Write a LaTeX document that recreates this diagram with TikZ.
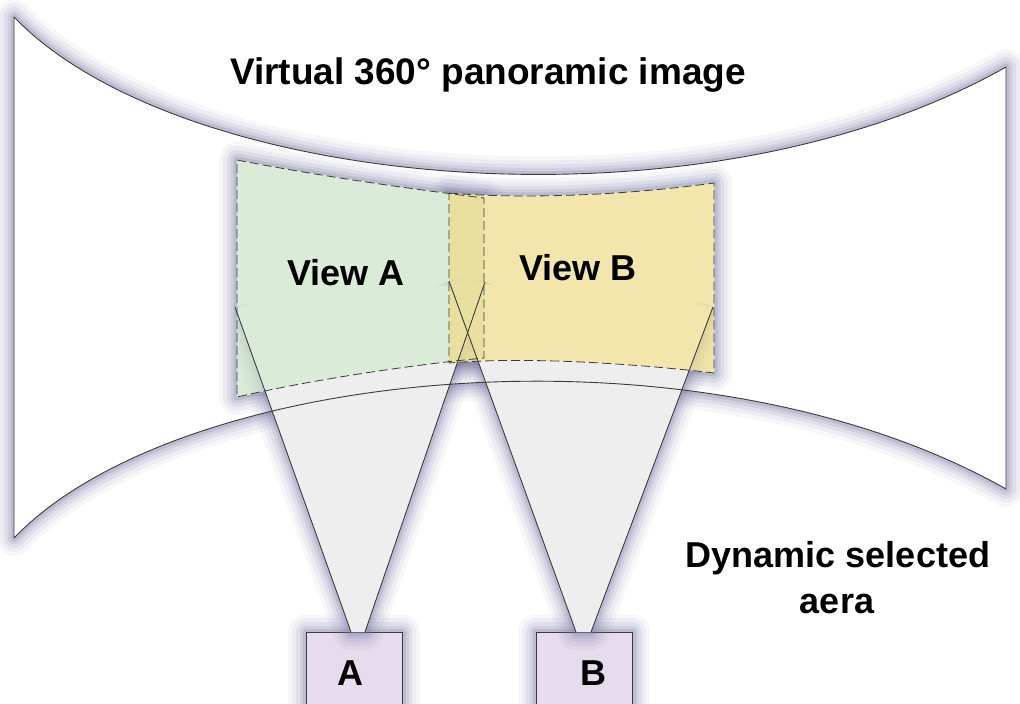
\documentclass[tikz,border=0pt]{standalone}
\usepackage{fontspec}
\setmainfont{Liberation Sans}
\definecolor{lineC}{HTML}{3A3A3A}
\definecolor{glowC}{RGB}{115,115,160}
\definecolor{coneC}{HTML}{EEEEEE}
\definecolor{viewAC}{RGB}{205,228,200}
\definecolor{viewBC}{RGB}{239,221,140}
\definecolor{camC}{HTML}{E6DCEE}
\tikzset{
  glow/.style={
    preaction={draw=#1,line width=36pt,draw opacity=.06,line join=round,line cap=butt},
    preaction={draw=#1,line width=28pt,draw opacity=.08,line join=round,line cap=butt},
    preaction={draw=#1,line width=20pt,draw opacity=.11,line join=round,line cap=butt},
    preaction={draw=#1,line width=13pt,draw opacity=.15,line join=round,line cap=butt},
    preaction={draw=#1,line width=7pt,draw opacity=.2,line join=round,line cap=butt}},
  outline/.style={draw=lineC,line width=0.9pt,line join=round},
  viewborder/.style={draw=lineC,line width=0.8pt,dash pattern=on 9pt off 4pt},
  camera/.style={draw=lineC,line width=0.9pt,fill=camC,minimum width=96pt,minimum height=90pt,inner sep=0pt},
  lbl/.style={font=\fontsize{36}{42}\selectfont\bfseries,text=black,inner sep=0pt,anchor=base}
}
\def\panopath{(14,17) .. controls (180,190) and (700,240) .. (1006,67) -- (1006,489) .. controls (700,316) and (180,365) .. (14,538) -- cycle}
\def\viewApath{(237,160) .. controls (330,178) and (420,190) .. (484,198) -- (484,358) .. controls (420,364) and (320,378) .. (237,397) -- cycle}
\def\viewBpath{(449,193) .. controls (520,199) and (620,196) .. (714,183) -- (714,373) .. controls (620,362) and (520,357) .. (449,363) -- cycle}
\def\belowviews{(0,704) -- (0,397) -- (237,397) .. controls (320,378) and (420,364) .. (484,358) .. controls (560,357) and (640,364) .. (714,373) -- (1020,373) -- (1020,704) -- cycle}
\begin{document}
\begin{tikzpicture}[x=1pt,y=-1pt]
\useasboundingbox (0,0) rectangle (1020,704);
\clip (0,0) rectangle (1020,704);
% panorama surface
\path[glow=glowC,fill=white] \panopath;
% view glows
\path[glow=glowC] \viewApath;
\path[glow=glowC] \viewBpath;
\fill[white] \viewApath;
\fill[white] \viewBpath;
% cone end coordinates
\coordinate (aL) at (235,307);
\coordinate (aR) at (485,282);
\coordinate (bL) at (449,281);
\coordinate (bR) at (713,307);
% cameras (nodes)
\path[glow=glowC] (306,720) rectangle (402,632);
\path[glow=glowC] (536,720) rectangle (632,632);
\node[camera,anchor=north west] (camA) at (306,632) {};
\node[camera,anchor=north west] (camB) at (536,632) {};
\coordinate (aPL) at ([xshift=45pt]camA.north west);
\coordinate (aPR) at ([xshift=59pt]camA.north west);
\coordinate (bPL) at ([xshift=40pt]camB.north west);
\coordinate (bPR) at ([xshift=55pt]camB.north west);
% cones below the views
\begin{scope}
  \clip \belowviews;
  \path[glow=glowC] (aL) -- (aPL) -- (aPR) -- (aR);
  \path[glow=glowC] (bL) -- (bPL) -- (bPR) -- (bR);
\end{scope}
\fill[coneC] (aL) -- (aPL) -- (aPR) -- (aR) -- cycle;
\fill[coneC] (bL) -- (bPL) -- (bPR) -- (bR) -- cycle;
% views: white base, cone glow outside the cones, tinted fill
\fill[white] \viewApath;
\fill[white] \viewBpath;
\begin{scope}
  \clip \viewApath;
  \path[glow=glowC] (aL) -- (aPL) -- (aPR) -- (aR);
  \path[glow=glowC] (bL) -- (bPL) -- (bPR) -- (bR);
  \fill[white] (aL) -- (aPL) -- (aPR) -- (aR) -- cycle;
  \fill[white] (bL) -- (bPL) -- (bPR) -- (bR) -- cycle;
\end{scope}
\begin{scope}
  \clip \viewBpath;
  \path[glow=glowC] (aL) -- (aPL) -- (aPR) -- (aR);
  \path[glow=glowC] (bL) -- (bPL) -- (bPR) -- (bR);
  \fill[white] (aL) -- (aPL) -- (aPR) -- (aR) -- cycle;
  \fill[white] (bL) -- (bPL) -- (bPR) -- (bR) -- cycle;
\end{scope}
\fill[viewAC,fill opacity=.72] \viewApath;
\fill[viewBC,fill opacity=.72] \viewBpath;
\path[viewborder] \viewApath;
\path[viewborder] \viewBpath;
% cone lines
\draw[outline] (aL) -- (aPL);
\draw[outline] (aR) -- (aPR);
\draw[outline] (bL) -- (bPL);
\draw[outline] (bR) -- (bPR);
% panorama outline
\path[outline] \panopath;
% texts
\node[lbl,font=\fontsize{37}{44}\selectfont\bfseries] (title) at (488,84) {Virtual 360° panoramic image};
\node[lbl] (vA) at (346,285) {View A};
\node[lbl] (vB) at (578,280) {View B};
\node[lbl] (dyn1) at (838,567) {Dynamic selected};
\node[lbl] (dyn2) at (837,613) {aera};
\node[lbl] (tA) at (350,685) {A};
\node[lbl] (tB) at (593,685) {B};
\end{tikzpicture}
\end{document}
